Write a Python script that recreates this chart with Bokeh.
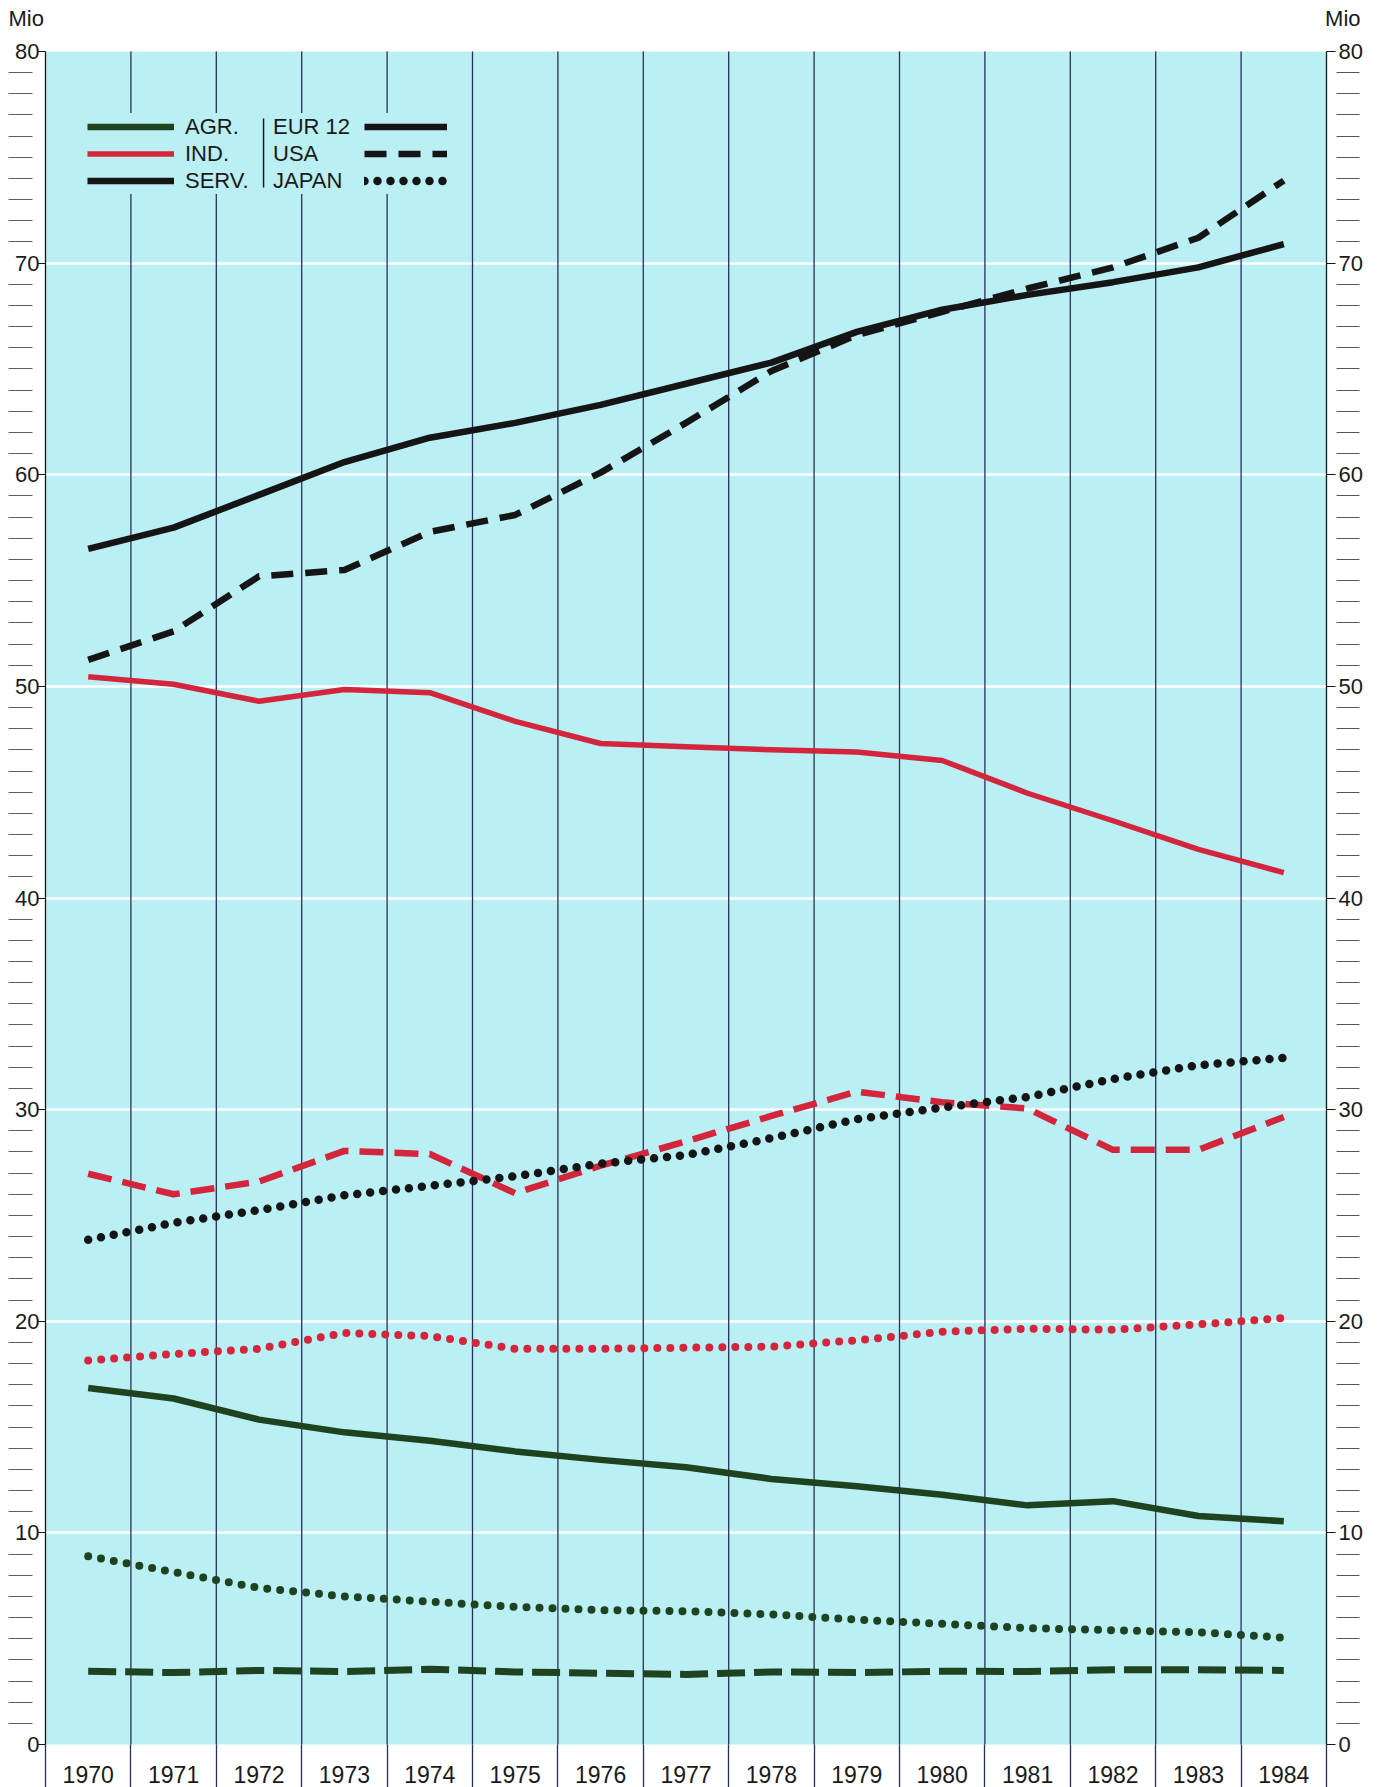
from bokeh.plotting import figure
from bokeh.models import (FixedTicker, LinearAxis, Range1d, Legend, LegendItem,
                          BoxAnnotation, Label)
from bokeh.embed import file_html
from bokeh.resources import INLINE

# ---------------- data (million persons employed) ----------------
years = list(range(1970, 1985))

eur_serv = [56.5, 57.5, 59.05, 60.6, 61.75, 62.45, 63.3, 64.3, 65.3, 66.75, 67.8, 68.5, 69.1, 69.8, 70.9]
usa_serv = [51.25, 52.6, 55.2, 55.5, 57.3, 58.1, 60.1, 62.45, 64.9, 66.6, 67.7, 68.8, 69.8, 71.2, 73.9]
jap_serv = [23.85, 24.65, 25.25, 25.95, 26.4, 26.85, 27.45, 27.85, 28.65, 29.55, 30.1, 30.6, 31.45, 32.1, 32.45]

eur_ind = [50.45, 50.1, 49.3, 49.85, 49.7, 48.35, 47.3, 47.15, 47.0, 46.9, 46.5, 44.95, 43.65, 42.3, 41.2]
usa_ind = [26.97, 26.0, 26.6, 28.05, 27.9, 26.05, 27.35, 28.5, 29.7, 30.85, 30.35, 30.05, 28.1, 28.1, 29.65]
jap_ind = [18.15, 18.45, 18.7, 19.45, 19.3, 18.7, 18.7, 18.75, 18.8, 19.1, 19.5, 19.65, 19.6, 19.85, 20.15]

eur_agr = [16.85, 16.35, 15.35, 14.75, 14.35, 13.85, 13.45, 13.1, 12.55, 12.2, 11.8, 11.3, 11.5, 10.8, 10.55]
usa_agr = [3.46, 3.40, 3.50, 3.45, 3.56, 3.43, 3.37, 3.31, 3.43, 3.40, 3.46, 3.45, 3.53, 3.53, 3.50]
jap_agr = [8.9, 8.15, 7.4, 7.0, 6.75, 6.5, 6.35, 6.3, 6.15, 5.9, 5.7, 5.5, 5.4, 5.3, 5.05]

sector_labels = ["AGR.", "IND.", "SERV."]
country_labels = ["EUR 12", "USA", "JAPAN"]
y_major = list(range(0, 81, 10))
y_minor = [v for v in range(1, 80) if v % 10]
x_bounds = [y - 0.5 for y in years] + [years[-1] + 0.5]
unit_label = "Mio"

# ---------------- styling / geometry ----------------
FONT = "Liberation Sans"
CYAN = "#baeff3"
GREEN = "#1f4321"
RED = "#d3263d"
BLACK = "#151515"
NAVY = "#2b2f5c"
TXT = "#1a1a1a"

W, H = 1381, 1787
PAD_L, PAD_R, PAD_T, PAD_B = 45, 55, 51, 43   # white margins around the cyan panel
PX_PER_YEAR = (W - PAD_L - PAD_R) / (x_bounds[-1] - x_bounds[0])
PX_PER_MIO = (H - PAD_T - PAD_B) / (y_major[-1] - y_major[0])

x0 = x_bounds[0] - PAD_L / PX_PER_YEAR
x1 = x_bounds[-1] + PAD_R / PX_PER_YEAR
y0 = y_major[0] - PAD_B / PX_PER_MIO
y1 = y_major[-1] + PAD_T / PX_PER_MIO

p = figure(width=W, height=H, output_backend="svg", toolbar_location=None,
           x_range=Range1d(x0, x1), y_range=Range1d(y0, y1),
           min_border_left=0, min_border_right=0, min_border_top=0, min_border_bottom=0)
p.title.visible = False
p.background_fill_color = "white"
p.border_fill_color = "white"
p.outline_line_color = None

# cyan chart panel
panel = BoxAnnotation(left=x_bounds[0], right=x_bounds[-1], bottom=y_major[0], top=y_major[-1],
                      fill_color=CYAN, fill_alpha=1.0, line_color=None, level="image")
p.add_layout(panel)

# horizontal white grid
xg = p.xgrid[0]
yg = p.ygrid[0]
xg.visible = False
yg.ticker = FixedTicker(ticks=y_major[1:-1])
yg.grid_line_color = "white"
yg.grid_line_width = 2.5

# vertical year separators inside the panel
n_in = len(x_bounds) - 2
p.segment(x0=x_bounds[1:-1], y0=[y_major[0]] * n_in, x1=x_bounds[1:-1], y1=[y_major[-1]] * n_in,
          line_color=NAVY, line_width=1.3)

# left axis (at the panel edge)
yl = p.yaxis[0]
yl.fixed_location = x_bounds[0]
yl.bounds = (y_major[0], y_major[-1])
yl.ticker = FixedTicker(ticks=y_major, minor_ticks=y_minor)
yl.axis_line_color = BLACK
yl.axis_line_width = 1.3
yl.major_tick_line_color = BLACK
yl.major_tick_line_width = 1.2
yl.major_tick_out = 8
yl.major_tick_in = 0
yl.minor_tick_line_color = "#6a5a60"
yl.minor_tick_line_width = 1.2
yl.minor_tick_in = -13
yl.minor_tick_out = 37
yl.major_label_standoff = -31
yl.major_label_text_font = FONT
yl.major_label_text_font_size = "22px"
yl.major_label_text_color = TXT

# right axis (labels right-aligned at the outer edge)
yr = LinearAxis(ticker=FixedTicker(ticks=y_major, minor_ticks=y_minor),
                fixed_location=x_bounds[-1], bounds=(y_major[0], y_major[-1]))
yr.axis_line_color = BLACK
yr.axis_line_width = 1.3
yr.major_tick_line_color = BLACK
yr.major_tick_line_width = 1.2
yr.major_tick_out = 9
yr.major_tick_in = 0
yr.minor_tick_line_color = "#555555"
yr.minor_tick_line_width = 1.2
yr.minor_tick_in = -10
yr.minor_tick_out = 33
yr.major_label_orientation = -1e-9
yr.major_label_standoff = -21
yr.major_label_text_font = FONT
yr.major_label_text_font_size = "22px"
yr.major_label_text_color = TXT
p.add_layout(yr, "right")

# bottom axis: year labels with separators reaching down
xa = p.xaxis[0]
xa.fixed_location = y_major[0]
xa.ticker = FixedTicker(ticks=years, minor_ticks=x_bounds)
xa.axis_line_color = None
xa.major_tick_line_color = None
xa.major_tick_out = 0
xa.major_tick_in = 0
xa.minor_tick_line_color = NAVY
xa.minor_tick_line_width = 1.3
xa.minor_tick_in = 0
xa.minor_tick_out = 43
xa.major_label_standoff = -22
xa.major_label_text_font = FONT
xa.major_label_text_font_size = "23px"
xa.major_label_text_color = TXT

# ---------------- series ----------------
def solid(vals, color, w=6):
    return p.line(years, vals, line_color=color, line_width=w, line_join="round")

def dashed(vals, color, dash, w=6.5):
    return p.line(years, vals, line_color=color, line_width=w, line_dash=dash, line_join="round")

def dotted(vals, color, w=8.5):
    return p.line(years, vals, line_color=color, line_width=w, line_dash="0 13",
                  line_cap="round", line_join="round")

r_usa_agr = dashed(usa_agr, GREEN, "28 9", 7)
r_jap_agr = dotted(jap_agr, GREEN, 8)
r_eur_agr = solid(eur_agr, GREEN, 6.5)
r_jap_ind = dotted(jap_ind, RED, 8)
r_usa_ind = dashed(usa_ind, RED, "24 11", 6.5)
r_jap_serv = dotted(jap_serv, BLACK, 8.5)
r_eur_ind = solid(eur_ind, RED, 5.5)
r_usa_serv = dashed(usa_serv, BLACK, "22 12", 6.5)
r_eur_serv = solid(eur_serv, BLACK, 6.5)

# ---------------- legends ----------------
common = dict(label_text_font=FONT, label_text_font_size="22px", label_text_color=TXT,
              label_height=27, glyph_height=27, spacing=0, padding=0, margin=0,
              background_fill_color=CYAN, background_fill_alpha=1.0, border_line_color=None)
LEG_Y = 1593

legA = Legend(items=[LegendItem(label=sector_labels[0], renderers=[r_eur_agr]),
                     LegendItem(label=sector_labels[1], renderers=[r_eur_ind]),
                     LegendItem(label=sector_labels[2], renderers=[r_eur_serv])],
              location=(87, LEG_Y), glyph_width=87, label_standoff=11, **common)
legC = Legend(items=[LegendItem(label=country_labels[0], renderers=[r_eur_serv]),
                     LegendItem(label=country_labels[1], renderers=[r_eur_serv]),
                     LegendItem(label=country_labels[2], renderers=[r_eur_serv])],
              location=(273, LEG_Y), glyph_width=0, label_standoff=0, **common)
legB = Legend(items=[LegendItem(label=" ", renderers=[r_eur_serv]),
                     LegendItem(label=" ", renderers=[r_usa_serv]),
                     LegendItem(label=" ", renderers=[r_jap_serv])],
              location=(364, LEG_Y), glyph_width=83, label_standoff=0, **common)
for lg in (legA, legC, legB):
    p.add_layout(lg, "center")

sep = BoxAnnotation(left=1972.045, right=1972.062, bottom=73.57, top=76.83,
                    fill_color=BLACK, fill_alpha=1.0, line_color=None, level="overlay")
p.add_layout(sep)

# unit labels above both axes
for xv, xo, al in ((x_bounds[0], -37, "left"), (x_bounds[-1], 34, "right")):
    p.add_layout(Label(x=xv, y=y_major[-1], x_offset=xo, y_offset=33, text=unit_label,
                       text_font=FONT, text_font_size="22px", text_color=TXT,
                       text_align=al, text_baseline="middle"))

open("out.html", "w").write(file_html(p, INLINE))
